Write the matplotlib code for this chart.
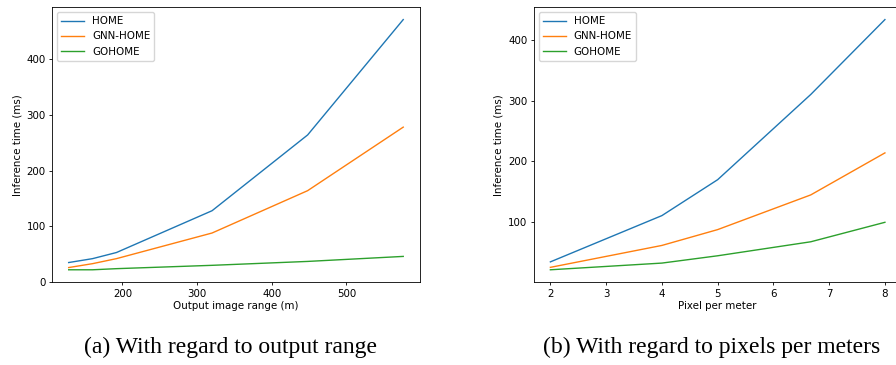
import matplotlib
matplotlib.use("Agg")
import matplotlib.pyplot as plt

# (a) output image range
range_m = [128, 160, 192, 320, 448, 576]
home_a = [35, 42, 53, 128, 264, 471]
gnn_a = [26, 33, 42, 88, 164, 278]
gohome_a = [22, 22, 24, 30, 37, 46]

# (b) pixels per meter
ppm = [2, 4, 5, 6.67, 8]
home_b = [35, 111, 170, 310, 433]
gnn_b = [26, 62, 88, 145, 214]
gohome_b = [22, 33, 45, 68, 100]

labels = ["HOME", "GNN-HOME", "GOHOME"]
fs = 7.4

fig = plt.figure(figsize=(8.96, 3.65), dpi=100)
ax1 = fig.add_axes([0.058, 0.2266, 0.4107, 0.754])
ax2 = fig.add_axes([0.5956, 0.2266, 0.4107, 0.754])

for ax, x, series, xlabel in [
    (ax1, range_m, [home_a, gnn_a, gohome_a], "Output image range (m)"),
    (ax2, ppm, [home_b, gnn_b, gohome_b], "Pixel per meter"),
]:
    for ys, lab in zip(series, labels):
        ax.plot(x, ys, label=lab, lw=1.0)
    ax.set_xlabel(xlabel, fontsize=fs, labelpad=2)
    ax.set_ylabel("Inference time (ms)", fontsize=fs, labelpad=3)
    ax.tick_params(labelsize=fs, length=2.5, width=0.6, pad=2)
    for s in ax.spines.values():
        s.set_linewidth(0.6)
    ax.legend(fontsize=fs, loc="upper left", handlelength=2.2, borderpad=0.4,
              labelspacing=0.5, framealpha=0.8)

ax1.set_yticks([0, 100, 200, 300, 400])
ax2.set_yticks([100, 200, 300, 400])

fig.text(0.257, 0.047, "(a) With regard to output range", ha="center", va="center",
         family="Liberation Serif", fontsize=17)
fig.text(0.794, 0.047, "(b) With regard to pixels per meters", ha="center", va="center",
         family="Liberation Serif", fontsize=17)

fig.savefig("out.png", dpi=100)
